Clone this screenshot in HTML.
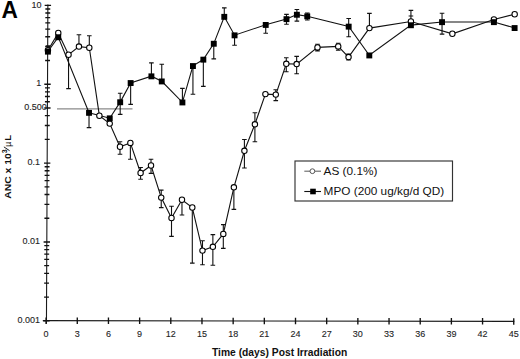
<!DOCTYPE html>
<html><head><meta charset="utf-8"><style>
html,body{margin:0;padding:0;background:#fff;width:520px;height:359px;overflow:hidden}
svg{display:block}
</style></head><body>
<svg width="520" height="359" viewBox="0 0 520 359">
<rect width="520" height="359" fill="#fff"/>
<text x="1.5" y="18" font-family="Liberation Sans, sans-serif" font-weight="bold" font-size="24" fill="#000" textLength="16.4" lengthAdjust="spacingAndGlyphs">A</text>
<path d="M47.87 4.40L46.44 323.80M42.80 320.65L514.34 321.40" stroke="#1a1a1a" stroke-width="1.1" fill="none"/>
<path d="M43.25 320.80L49.65 320.80M44.06 297.06L48.96 297.06M44.12 283.18L49.02 283.18M44.16 273.33L49.06 273.33M44.20 265.69L49.10 265.69M44.23 259.44L49.13 259.44M44.25 254.16L49.15 254.16M44.27 249.59L49.17 249.59M44.29 245.56L49.19 245.56M43.60 241.95L50.00 241.95M44.41 218.21L49.31 218.21M44.47 204.33L49.37 204.33M44.52 194.48L49.42 194.48M44.55 186.84L49.45 186.84M44.58 180.59L49.48 180.59M44.60 175.31L49.50 175.31M44.63 170.74L49.53 170.74M44.64 166.71L49.54 166.71M43.96 163.10L50.36 163.10M44.77 139.36L49.67 139.36M44.83 125.48L49.73 125.48M44.87 115.63L49.77 115.63M44.91 107.99L49.81 107.99M44.94 101.74L49.84 101.74M44.96 96.46L49.86 96.46M44.98 91.89L49.88 91.89M45.00 87.86L49.90 87.86M44.31 84.25L50.71 84.25M45.12 60.51L50.02 60.51M45.18 46.63L50.08 46.63M45.23 36.78L50.13 36.78M45.26 29.14L50.16 29.14M45.29 22.89L50.19 22.89M45.31 17.61L50.21 17.61M45.33 13.04L50.23 13.04M45.35 9.01L50.25 9.01M44.67 5.40L51.07 5.40M44.26 107.99L50.56 107.99M46.10 317.40L46.10 323.90M77.28 317.45L77.28 323.95M108.45 317.50L108.45 324.00M139.63 317.55L139.63 324.05M170.80 317.60L170.80 324.10M201.98 317.65L201.98 324.15M233.16 317.70L233.16 324.20M264.33 317.75L264.33 324.25M295.51 317.80L295.51 324.30M326.68 317.85L326.68 324.35M357.86 317.90L357.86 324.40M389.04 317.95L389.04 324.45M420.21 318.00L420.21 324.50M451.39 318.05L451.39 324.55M482.56 318.10L482.56 324.60M513.74 318.15L513.74 324.65" stroke="#111" stroke-width="1.35" fill="none"/>
<path d="M57 108.89L132.5 108.89" stroke="#8a8a8a" stroke-width="1.4"/>
<g font-family="Liberation Sans, sans-serif" font-size="9" fill="#222" stroke="#333" stroke-width="0.12"><text x="46.10" y="337" text-anchor="middle">0</text><text x="77.28" y="337" text-anchor="middle">3</text><text x="108.45" y="337" text-anchor="middle">6</text><text x="139.63" y="337" text-anchor="middle">9</text><text x="170.80" y="337" text-anchor="middle">12</text><text x="201.98" y="337" text-anchor="middle">15</text><text x="233.16" y="337" text-anchor="middle">18</text><text x="264.33" y="337" text-anchor="middle">21</text><text x="295.51" y="337" text-anchor="middle">24</text><text x="326.68" y="337" text-anchor="middle">27</text><text x="357.86" y="337" text-anchor="middle">30</text><text x="389.04" y="337" text-anchor="middle">33</text><text x="420.21" y="337" text-anchor="middle">36</text><text x="451.39" y="337" text-anchor="middle">39</text><text x="482.56" y="337" text-anchor="middle">42</text><text x="513.74" y="337" text-anchor="middle">45</text><text x="41.50" y="7.50" text-anchor="end">10</text><text x="41.20" y="86.35" text-anchor="end">1</text><text x="46.80" y="110.09" text-anchor="end">0.500</text><text x="40.10" y="165.20" text-anchor="end">0.1</text><text x="40.10" y="244.05" text-anchor="end">0.01</text><text x="40.10" y="322.90" text-anchor="end">0.001</text></g>
<text x="212.0" y="356.2" font-family="Liberation Sans, sans-serif" font-weight="bold" font-size="10.3" fill="#111" textLength="135.2" lengthAdjust="spacingAndGlyphs">Time (days) Post Irradiation</text>
<g transform="translate(10.5 198.8) rotate(-90)" font-family="Liberation Sans, sans-serif" font-weight="bold" font-size="9.6" fill="#111"><text x="0" y="0" textLength="45.5" lengthAdjust="spacingAndGlyphs">ANC x 10</text><text x="45.5" y="-4.0" font-size="7">3</text><path d="M48.1 -0.9L51.9 -6.6" stroke="#111" stroke-width="0.95" fill="none"/><text x="52.1" y="0" font-weight="normal" font-size="8.6">&#181;</text><text x="58.0" y="0">L</text></g>
<polyline points="47.91,51.50 58.25,37.10 89.02,112.70 109.74,118.20 120.18,102.10 130.64,82.90 151.41,76.20 161.76,81.30 182.41,102.30 192.94,65.90 203.34,59.50 213.78,43.60 224.28,16.70 234.56,35.20 265.72,24.80 286.49,19.00 296.88,14.60 307.25,16.20 348.68,26.50 369.30,55.30 410.92,25.10 442.04,22.00 493.90,22.00 514.61,27.90" fill="none" stroke="#111" stroke-width="1.1"/>
<polyline points="47.92,50.30 58.27,33.00 68.54,54.70 78.95,46.60 89.31,47.70 99.38,115.70 109.71,123.60 119.98,146.70 130.37,142.90 140.60,173.00 151.01,165.50 161.24,197.60 171.51,218.00 181.97,199.70 192.30,207.50 202.48,250.60 212.87,246.80 223.30,233.90 233.88,187.30 244.41,150.80 254.90,124.30 265.41,94.10 275.78,94.60 286.29,63.80 296.66,64.10 317.48,47.40 338.22,46.40 348.55,57.10 369.42,28.10 410.93,21.50 452.36,33.80 493.91,19.50 514.67,14.20" fill="none" stroke="#111" stroke-width="1.1"/>
<path d="M68.54 54.70L68.54 88.60M66.24 88.60L70.84 88.60M78.95 46.60L78.95 34.70M76.65 34.70L81.25 34.70M89.31 47.70L89.31 35.70M87.01 35.70L91.61 35.70M119.98 146.70L119.98 141.70M117.68 141.70L122.28 141.70M119.98 146.70L119.98 154.30M117.68 154.30L122.28 154.30M130.37 142.90L130.37 159.30M128.07 159.30L132.67 159.30M140.60 173.00L140.60 167.50M138.30 167.50L142.90 167.50M140.60 173.00L140.60 179.20M138.30 179.20L142.90 179.20M151.01 165.50L151.01 159.30M148.71 159.30L153.31 159.30M151.01 165.50L151.01 173.40M148.71 173.40L153.31 173.40M161.24 197.60L161.24 190.10M158.94 190.10L163.54 190.10M161.24 197.60L161.24 207.60M158.94 207.60L163.54 207.60M171.51 218.00L171.51 206.30M169.21 206.30L173.81 206.30M171.51 218.00L171.51 236.40M169.21 236.40L173.81 236.40M181.97 199.70L181.97 215.00M179.67 215.00L184.27 215.00M192.30 207.50L192.30 263.10M190.00 263.10L194.60 263.10M202.48 250.60L202.48 240.80M200.18 240.80L204.78 240.80M202.48 250.60L202.48 264.70M200.18 264.70L204.78 264.70M212.87 246.80L212.87 234.60M210.57 234.60L215.17 234.60M212.87 246.80L212.87 265.30M210.57 265.30L215.17 265.30M223.30 233.90L223.30 224.60M221.00 224.60L225.60 224.60M223.30 233.90L223.30 248.40M221.00 248.40L225.60 248.40M233.88 187.30L233.88 209.40M231.58 209.40L236.18 209.40M244.41 150.80L244.41 139.50M242.11 139.50L246.71 139.50M244.41 150.80L244.41 168.00M242.11 168.00L246.71 168.00M254.90 124.30L254.90 112.80M252.60 112.80L257.20 112.80M254.90 124.30L254.90 141.80M252.60 141.80L257.20 141.80M275.78 94.60L275.78 89.70M273.48 89.70L278.08 89.70M275.78 94.60L275.78 100.60M273.48 100.60L278.08 100.60M286.29 63.80L286.29 57.80M283.99 57.80L288.59 57.80M286.29 63.80L286.29 71.70M283.99 71.70L288.59 71.70M296.66 64.10L296.66 56.40M294.36 56.40L298.96 56.40M296.66 64.10L296.66 73.80M294.36 73.80L298.96 73.80M317.48 47.40L317.48 44.30M315.18 44.30L319.78 44.30M317.48 47.40L317.48 50.90M315.18 50.90L319.78 50.90M338.22 46.40L338.22 43.20M335.92 43.20L340.52 43.20M338.22 46.40L338.22 50.20M335.92 50.20L340.52 50.20M348.55 57.10L348.55 54.00M346.25 54.00L350.85 54.00M348.55 57.10L348.55 60.00M346.25 60.00L350.85 60.00M369.42 28.10L369.42 13.40M367.12 13.40L371.72 13.40M410.93 21.50L410.93 10.40M408.63 10.40L413.23 10.40M47.91 51.50L47.91 45.70M45.61 45.70L50.21 45.70M89.02 112.70L89.02 127.60M86.72 127.60L91.32 127.60M120.18 102.10L120.18 93.30M117.88 93.30L122.48 93.30M120.18 102.10L120.18 114.40M117.88 114.40L122.48 114.40M130.64 82.90L130.64 104.40M128.34 104.40L132.94 104.40M151.41 76.20L151.41 62.90M149.11 62.90L153.71 62.90M161.76 81.30L161.76 64.20M159.46 64.20L164.06 64.20M182.41 102.30L182.41 88.40M180.11 88.40L184.71 88.40M192.94 65.90L192.94 94.30M190.64 94.30L195.24 94.30M203.34 59.50L203.34 86.40M201.04 86.40L205.64 86.40M213.78 43.60L213.78 58.90M211.48 58.90L216.08 58.90M224.28 16.70L224.28 7.90M221.98 7.90L226.58 7.90M234.56 35.20L234.56 45.30M232.26 45.30L236.86 45.30M265.72 24.80L265.72 33.20M263.42 33.20L268.02 33.20M286.49 19.00L286.49 14.40M284.19 14.40L288.79 14.40M286.49 19.00L286.49 24.20M284.19 24.20L288.79 24.20M296.88 14.60L296.88 9.50M294.58 9.50L299.18 9.50M296.88 14.60L296.88 21.10M294.58 21.10L299.18 21.10M307.25 16.20L307.25 13.00M304.95 13.00L309.55 13.00M307.25 16.20L307.25 20.00M304.95 20.00L309.55 20.00M348.68 26.50L348.68 18.50M346.38 18.50L350.98 18.50M348.68 26.50L348.68 36.80M346.38 36.80L350.98 36.80M410.92 25.10L410.92 16.00M408.62 16.00L413.22 16.00M442.04 22.00L442.04 13.20M439.74 13.20L444.34 13.20M442.04 22.00L442.04 34.10M439.74 34.10L444.34 34.10" stroke="#111" stroke-width="1.1" fill="none"/>
<circle cx="47.92" cy="50.30" r="2.7" fill="#fff" stroke="#000" stroke-width="1.05"/><circle cx="58.27" cy="33.00" r="2.7" fill="#fff" stroke="#000" stroke-width="1.05"/><circle cx="68.54" cy="54.70" r="2.7" fill="#fff" stroke="#000" stroke-width="1.05"/><circle cx="78.95" cy="46.60" r="2.7" fill="#fff" stroke="#000" stroke-width="1.05"/><circle cx="89.31" cy="47.70" r="2.7" fill="#fff" stroke="#000" stroke-width="1.05"/><circle cx="99.38" cy="115.70" r="2.7" fill="#fff" stroke="#000" stroke-width="1.05"/><circle cx="109.71" cy="123.60" r="2.7" fill="#fff" stroke="#000" stroke-width="1.05"/><circle cx="119.98" cy="146.70" r="2.7" fill="#fff" stroke="#000" stroke-width="1.05"/><circle cx="130.37" cy="142.90" r="2.7" fill="#fff" stroke="#000" stroke-width="1.05"/><circle cx="140.60" cy="173.00" r="2.7" fill="#fff" stroke="#000" stroke-width="1.05"/><circle cx="151.01" cy="165.50" r="2.7" fill="#fff" stroke="#000" stroke-width="1.05"/><circle cx="161.24" cy="197.60" r="2.7" fill="#fff" stroke="#000" stroke-width="1.05"/><circle cx="171.51" cy="218.00" r="2.7" fill="#fff" stroke="#000" stroke-width="1.05"/><circle cx="181.97" cy="199.70" r="2.7" fill="#fff" stroke="#000" stroke-width="1.05"/><circle cx="192.30" cy="207.50" r="2.7" fill="#fff" stroke="#000" stroke-width="1.05"/><circle cx="202.48" cy="250.60" r="2.7" fill="#fff" stroke="#000" stroke-width="1.05"/><circle cx="212.87" cy="246.80" r="2.7" fill="#fff" stroke="#000" stroke-width="1.05"/><circle cx="223.30" cy="233.90" r="2.7" fill="#fff" stroke="#000" stroke-width="1.05"/><circle cx="233.88" cy="187.30" r="2.7" fill="#fff" stroke="#000" stroke-width="1.05"/><circle cx="244.41" cy="150.80" r="2.7" fill="#fff" stroke="#000" stroke-width="1.05"/><circle cx="254.90" cy="124.30" r="2.7" fill="#fff" stroke="#000" stroke-width="1.05"/><circle cx="265.41" cy="94.10" r="2.7" fill="#fff" stroke="#000" stroke-width="1.05"/><circle cx="275.78" cy="94.60" r="2.7" fill="#fff" stroke="#000" stroke-width="1.05"/><circle cx="286.29" cy="63.80" r="2.7" fill="#fff" stroke="#000" stroke-width="1.05"/><circle cx="296.66" cy="64.10" r="2.7" fill="#fff" stroke="#000" stroke-width="1.05"/><circle cx="317.48" cy="47.40" r="2.7" fill="#fff" stroke="#000" stroke-width="1.05"/><circle cx="338.22" cy="46.40" r="2.7" fill="#fff" stroke="#000" stroke-width="1.05"/><circle cx="348.55" cy="57.10" r="2.7" fill="#fff" stroke="#000" stroke-width="1.05"/><circle cx="369.42" cy="28.10" r="2.7" fill="#fff" stroke="#000" stroke-width="1.05"/><circle cx="410.93" cy="21.50" r="2.7" fill="#fff" stroke="#000" stroke-width="1.05"/><circle cx="452.36" cy="33.80" r="2.7" fill="#fff" stroke="#000" stroke-width="1.05"/><circle cx="493.91" cy="19.50" r="2.7" fill="#fff" stroke="#000" stroke-width="1.05"/><circle cx="514.67" cy="14.20" r="2.7" fill="#fff" stroke="#000" stroke-width="1.05"/><rect x="44.96" y="48.70" width="5.9" height="5.9" fill="#000"/><rect x="55.30" y="34.30" width="5.9" height="5.9" fill="#000"/><rect x="86.07" y="109.90" width="5.9" height="5.9" fill="#000"/><rect x="106.79" y="115.40" width="5.9" height="5.9" fill="#000"/><rect x="117.23" y="99.30" width="5.9" height="5.9" fill="#000"/><rect x="127.69" y="80.10" width="5.9" height="5.9" fill="#000"/><rect x="148.46" y="73.40" width="5.9" height="5.9" fill="#000"/><rect x="158.81" y="78.50" width="5.9" height="5.9" fill="#000"/><rect x="179.46" y="99.50" width="5.9" height="5.9" fill="#000"/><rect x="189.99" y="63.10" width="5.9" height="5.9" fill="#000"/><rect x="200.39" y="56.70" width="5.9" height="5.9" fill="#000"/><rect x="210.83" y="40.80" width="5.9" height="5.9" fill="#000"/><rect x="221.33" y="13.90" width="5.9" height="5.9" fill="#000"/><rect x="231.61" y="32.40" width="5.9" height="5.9" fill="#000"/><rect x="262.77" y="22.00" width="5.9" height="5.9" fill="#000"/><rect x="283.54" y="16.20" width="5.9" height="5.9" fill="#000"/><rect x="293.93" y="11.80" width="5.9" height="5.9" fill="#000"/><rect x="304.30" y="13.40" width="5.9" height="5.9" fill="#000"/><rect x="345.73" y="23.70" width="5.9" height="5.9" fill="#000"/><rect x="366.35" y="52.50" width="5.9" height="5.9" fill="#000"/><rect x="407.97" y="22.30" width="5.9" height="5.9" fill="#000"/><rect x="439.09" y="19.20" width="5.9" height="5.9" fill="#000"/><rect x="490.95" y="19.20" width="5.9" height="5.9" fill="#000"/><rect x="511.66" y="25.10" width="5.9" height="5.9" fill="#000"/>
<rect x="295" y="161" width="157.5" height="40" fill="#fff" stroke="#333" stroke-width="1.15"/>
<path d="M304.3 171.2H321" stroke="#666" stroke-width="1.1"/><path d="M304.3 191.5H321" stroke="#111" stroke-width="1.1"/>
<circle cx="312.4" cy="171.2" r="2.4" fill="#fff" stroke="#555" stroke-width="1"/>
<rect x="310.2" y="188.7" width="5.6" height="5.6" fill="#000"/>
<text x="323.6" y="174.8" font-family="Liberation Sans, sans-serif" font-size="10.8" fill="#111" textLength="53.8" lengthAdjust="spacingAndGlyphs">AS (0.1%)</text>
<text x="323.6" y="195.1" font-family="Liberation Sans, sans-serif" font-size="10.8" fill="#111" textLength="120.6" lengthAdjust="spacingAndGlyphs">MPO (200 ug/kg/d QD)</text>
</svg>
</body></html>
